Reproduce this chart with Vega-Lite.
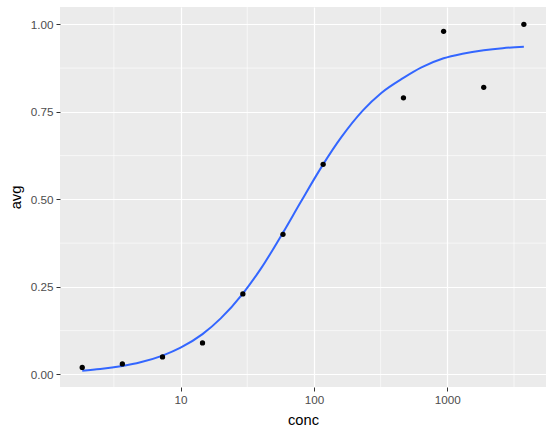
{
  "$schema": "https://vega.github.io/schema/vega-lite/v6.json",
  "width": 486,
  "height": 380,
  "autosize": {"type": "none"},
  "padding": {"left": 60, "top": 7, "right": 8, "bottom": 44},
  "background": "white",
  "config": {
    "view": {"fill": "#EBEBEB", "stroke": null},
    "font": "Liberation Sans",
    "axis": {
      "grid": true,
      "gridColor": "white",
      "gridWidth": 1.2,
      "domain": false,
      "tickColor": "#333333",
      "tickSize": 4,
      "tickWidth": 1,
      "labelColor": "#4D4D4D",
      "labelFontSize": 11.7,
      "labelFont": "Liberation Sans",
      "titleFont": "Liberation Sans",
      "titleFontSize": 14.7,
      "titleFontWeight": "normal",
      "titleColor": "black",
      "labelPadding": 3
    }
  },
  "datasets": {
    "pts": [
      {"conc": 1.83, "avg": 0.02},
      {"conc": 3.66, "avg": 0.03},
      {"conc": 7.32, "avg": 0.05},
      {"conc": 14.6, "avg": 0.09},
      {"conc": 29.3, "avg": 0.23},
      {"conc": 58.6, "avg": 0.40},
      {"conc": 117.2, "avg": 0.60},
      {"conc": 469, "avg": 0.79},
      {"conc": 938, "avg": 0.98},
      {"conc": 1875, "avg": 0.82},
      {"conc": 3750, "avg": 1.00}
    ],
    "fit": [
      {"conc": 1.83, "avg": 0.0105},
      {"conc": 2.5, "avg": 0.0152},
      {"conc": 3.66, "avg": 0.024},
      {"conc": 5, "avg": 0.0345},
      {"conc": 7.32, "avg": 0.0537},
      {"conc": 10, "avg": 0.0763},
      {"conc": 14.6, "avg": 0.115},
      {"conc": 20, "avg": 0.16},
      {"conc": 29.3, "avg": 0.231},
      {"conc": 40, "avg": 0.302},
      {"conc": 58.6, "avg": 0.405},
      {"conc": 80, "avg": 0.494},
      {"conc": 117.2, "avg": 0.6},
      {"conc": 160, "avg": 0.677},
      {"conc": 234, "avg": 0.755},
      {"conc": 320, "avg": 0.804},
      {"conc": 469, "avg": 0.847},
      {"conc": 640, "avg": 0.877},
      {"conc": 938, "avg": 0.903},
      {"conc": 1300, "avg": 0.916},
      {"conc": 1875, "avg": 0.926},
      {"conc": 2600, "avg": 0.932},
      {"conc": 3750, "avg": 0.936}
    ],
    "minx": [{"v": 3.1623}, {"v": 31.623}, {"v": 316.23}, {"v": 3162.3}],
    "miny": [{"v": 0.125}, {"v": 0.375}, {"v": 0.625}, {"v": 0.875}]
  },
  "layer": [
    {
      "data": {"name": "minx"},
      "mark": {"type": "rule", "color": "white", "strokeWidth": 0.6},
      "encoding": {
        "x": {"field": "v", "type": "quantitative", "scale": {"type": "log"}}
      }
    },
    {
      "data": {"name": "miny"},
      "mark": {"type": "rule", "color": "white", "strokeWidth": 0.6},
      "encoding": {
        "y": {"field": "v", "type": "quantitative"}
      }
    },
    {
      "data": {"name": "fit"},
      "mark": {"type": "line", "color": "#3366FF", "strokeWidth": 2, "interpolate": "monotone"},
      "encoding": {
        "x": {"field": "conc", "type": "quantitative"},
        "y": {"field": "avg", "type": "quantitative"}
      }
    },
    {
      "data": {"name": "pts"},
      "mark": {"type": "circle", "color": "black", "opacity": 1, "size": 28},
      "encoding": {
        "x": {
          "field": "conc", "type": "quantitative", "title": "conc",
          "scale": {"type": "log", "domain": [1.247, 5495], "nice": false, "zero": false},
          "axis": {"values": [10, 100, 1000], "format": "d", "titlePadding": 7}
        },
        "y": {
          "field": "avg", "type": "quantitative", "title": "avg",
          "scale": {"domain": [-0.036, 1.0495], "nice": false, "zero": false},
          "axis": {"values": [0, 0.25, 0.5, 0.75, 1], "format": ".2f", "titlePadding": 7}
        }
      }
    }
  ]
}
